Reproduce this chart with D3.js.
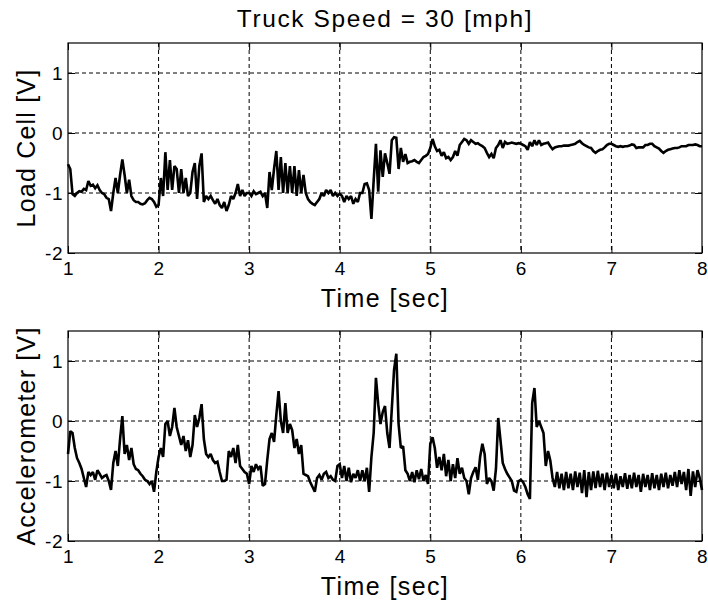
<!DOCTYPE html>
<html>
<head>
<meta charset="utf-8">
<script src="https://cdn.jsdelivr.net/npm/d3@7"></script>
<style>
  html, body { margin: 0; padding: 0; background: #fff; }
  svg { display: block; }
  text { font-family: "Liberation Sans", Arial, sans-serif; fill: #000; }
</style>
</head>
<body>
<svg id="chart" width="708" height="604"></svg>
<script>
// ---------------- data ----------------
const title = "Truck Speed = 30 [mph]";
const xLabel = "Time [sec]";
const yLabels = ["Load Cell [V]", "Accelerometer [V]"];
const xTicks = [1, 2, 3, 4, 5, 6, 7, 8];
const yTicks = [-2, -1, 0, 1];
const xDomain = [1, 8];
const yDomain = [-2, 1.5];
const tStart = 1;       // first sample time [sec]
const tStep = 0.025;    // sample spacing [sec]

const loadCell = [
  -0.52, -0.6, -1.02, -1.05, -1.0, -0.97, -0.98, -0.93, -0.95, -0.8,
  -0.88, -0.86, -0.92, -0.87, -0.95, -1.0, -1.02, -1.08, -1.1, -1.3,
  -1.0, -0.75, -1.0, -0.7, -0.44, -0.7, -1.0, -0.78, -1.05, -1.12,
  -1.15, -1.15, -1.18, -1.19, -1.17, -1.12, -1.08, -1.1, -1.15, -1.23,
  -1.2, -0.75, -1.05, -0.32, -0.95, -0.45, -0.95, -0.55, -0.6, -1.0,
  -0.6, -1.0, -0.75, -1.05, -1.0, -0.65, -0.5, -1.1, -0.55, -0.34,
  -1.15, -1.05, -1.1, -1.05, -1.12, -1.18, -1.1, -1.2, -1.25, -1.15,
  -1.3, -1.2, -1.05, -1.1, -1.0, -0.85, -1.05, -0.95, -1.05, -1.0,
  -1.0, -1.05, -0.97, -1.02, -1.0, -0.98, -1.05, -1.0, -1.25, -0.65,
  -0.95, -0.6, -0.3, -0.95, -0.4, -1.0, -0.5, -1.0, -0.55, -1.0,
  -0.55, -1.05, -0.62, -1.0, -0.7, -1.0, -1.1, -1.15, -1.18, -1.2,
  -1.15, -1.1, -1.0, -1.05, -0.95, -1.0, -0.95, -1.05, -1.0, -1.05,
  -1.01, -1.05, -1.15, -1.05, -1.1, -1.05, -1.18, -1.1, -1.15, -1.0,
  -1.0, -0.85, -0.84, -0.95, -1.43, -0.79, -0.18, -0.98, -0.29, -0.73,
  -0.34, -0.5, -0.68, -0.12, -0.07, -0.08, -0.6, -0.25, -0.48, -0.35,
  -0.5, -0.48, -0.47, -0.45, -0.48, -0.5, -0.45, -0.4, -0.38, -0.35,
  -0.25, -0.1, -0.22, -0.3, -0.28, -0.38, -0.32, -0.42, -0.4, -0.45,
  -0.4, -0.3, -0.38, -0.2, -0.15, -0.1, -0.12, -0.18, -0.12, -0.15,
  -0.18, -0.17, -0.2, -0.22, -0.25, -0.33, -0.4, -0.35, -0.42, -0.25,
  -0.2, -0.12, -0.25, -0.15, -0.18, -0.17, -0.16, -0.17, -0.18, -0.17,
  -0.18, -0.2, -0.22, -0.28, -0.15, -0.22, -0.12, -0.2, -0.12, -0.2,
  -0.18, -0.17, -0.16, -0.22, -0.27, -0.24, -0.23, -0.22, -0.22, -0.21,
  -0.21, -0.21, -0.2, -0.19, -0.18, -0.15, -0.13, -0.17, -0.2, -0.22,
  -0.24, -0.25, -0.3, -0.33, -0.3, -0.28, -0.27, -0.24, -0.2, -0.18,
  -0.18, -0.2, -0.22, -0.23, -0.22, -0.23, -0.22, -0.22, -0.21, -0.19,
  -0.2, -0.25, -0.24, -0.24, -0.24, -0.2, -0.2, -0.18, -0.18, -0.22,
  -0.24, -0.26, -0.3, -0.33, -0.3, -0.28, -0.27, -0.26, -0.25, -0.25,
  -0.24, -0.22, -0.22, -0.22, -0.2, -0.2, -0.2, -0.19, -0.2, -0.22,
  -0.22
];

const accelerometer = [
  -0.55, -0.17, -0.2, -0.45, -0.62, -0.7, -0.8, -0.95, -1.1, -0.85,
  -0.9, -0.85, -0.98, -0.82, -0.88, -0.95, -0.92, -0.9, -1.0, -1.15,
  -0.7, -0.5, -0.75, -0.3, 0.08, -0.55, -0.4, -0.65, -0.45, -0.72,
  -0.8, -0.82, -0.88, -0.92, -0.98, -1.0, -1.05, -1.0, -1.18, -0.85,
  -0.6, -0.45, -0.6, -0.05, 0.0, -0.25, -0.1, 0.22, -0.1, -0.25,
  -0.4, -0.25, -0.5, -0.32, -0.6, -0.4, 0.1, -0.1, 0.05, 0.28,
  -0.3, -0.55, -0.6, -0.55, -0.65, -0.7, -0.68, -0.85, -1.0, -1.0,
  -0.98, -0.5, -0.6, -0.45, -0.7, -0.4, -0.75, -0.8, -0.85, -0.88,
  -1.05, -0.75, -0.85, -0.72, -0.8, -0.75, -1.08, -1.05, -0.65, -0.3,
  -0.2, -0.35, 0.1, 0.5, 0.0, -0.2, 0.3, -0.2, -0.05, -0.15,
  -0.45, -0.3, -0.55, -0.4, -0.88, -0.9, -0.92, -1.02, -1.1, -1.18,
  -0.95, -0.9, -0.98, -0.88, -0.85, -0.95, -0.92, -0.98, -1.0, -0.75,
  -0.72, -0.95, -0.75, -1.0, -0.78, -1.02, -0.88, -0.95, -0.82, -1.0,
  -0.82, -1.0, -0.78, -1.18, -0.6, -0.2, 0.72, 0.28, -0.05, 0.15,
  0.25, -0.2, -0.45, 0.2, 0.85, 1.12, -0.05, -0.45, -0.42, -0.82,
  -0.88, -1.0, -0.85, -1.02, -0.82, -0.97, -0.8, -1.0, -0.9, -1.05,
  -0.38, -0.27, -0.45, -0.78, -0.6, -0.82, -0.55, -0.92, -0.65, -1.0,
  -0.72, -0.95, -0.62, -0.88, -0.78, -0.95, -1.0, -1.22, -0.95, -0.85,
  -0.77, -0.98, -0.6, -0.38, -0.55, -1.05, -0.95, -1.0, -1.16, -0.8,
  0.05, -0.32, -0.7, -0.8, -0.88, -0.94, -1.0, -1.16, -1.18, -1.0,
  -0.98, -1.02, -1.1, -1.22, -1.3, 0.3, 0.55, -0.1, 0.0, -0.1,
  -0.2, -0.75, -0.5, -0.66, -0.95, -1.1, -0.85, -1.12, -0.88, -1.15,
  -0.85, -1.12, -0.88, -1.15, -0.84, -1.1, -0.86, -1.2, -0.82, -1.27,
  -0.85, -1.15, -0.84, -1.12, -0.83, -1.1, -0.88, -1.15, -0.86, -1.1,
  -0.9, -1.12, -0.88, -1.15, -0.92, -1.1, -0.87, -1.13, -0.9, -1.12,
  -0.86, -1.1, -0.9, -1.18, -0.88, -1.1, -0.9, -1.15, -0.87, -1.12,
  -0.9, -1.15, -0.88, -1.1, -0.86, -1.12, -0.9, -1.08, -0.85, -1.1,
  -0.82, -1.05, -0.85, -1.15, -0.8, -1.25, -0.84, -1.1, -0.82, -0.95,
  -1.15
];

// ---------------- layout ----------------
const svg = d3.select("#chart");
const plotLeft = 68, plotRight = 702;
const panels = [
  { values: loadCell, label: yLabels[0], top: 43, bottom: 253 },
  { values: accelerometer, label: yLabels[1], top: 331, bottom: 541 }
];

const x = d3.scaleLinear().domain(xDomain).range([plotLeft, plotRight]);
const plainFormat = d => String(d);   // hyphen-minus like the original

svg.append("text")
  .attr("x", (plotLeft + plotRight) / 2)
  .attr("y", 27)
  .attr("text-anchor", "middle")
  .style("font-size", "24.5px")
  .style("letter-spacing", "1.6px")
  .text(title);

panels.forEach(p => {
  const y = d3.scaleLinear().domain(yDomain).range([p.bottom, p.top]);
  const g = svg.append("g");

  // grid
  g.selectAll("line.vg").data(xTicks.filter(t => t > xDomain[0] && t < xDomain[1]))
    .join("line")
    .attr("x1", d => x(d)).attr("x2", d => x(d))
    .attr("y1", p.top).attr("y2", p.bottom)
    .attr("stroke", "#000").attr("stroke-width", 1)
    .attr("stroke-dasharray", "4,3");
  g.selectAll("line.hg").data(yTicks.filter(t => t > yDomain[0] && t < yDomain[1]))
    .join("line")
    .attr("y1", d => y(d)).attr("y2", d => y(d))
    .attr("x1", plotLeft).attr("x2", plotRight)
    .attr("stroke", "#000").attr("stroke-width", 1)
    .attr("stroke-dasharray", "4,3");

  // axes (inward ticks on all sides)
  const axB = g.append("g").attr("transform", `translate(0,${p.bottom})`)
    .call(d3.axisBottom(x).tickValues(xTicks).tickFormat(plainFormat)
      .tickSizeInner(-7).tickSizeOuter(0).tickPadding(9));
  const axT = g.append("g").attr("transform", `translate(0,${p.top})`)
    .call(d3.axisTop(x).tickValues(xTicks).tickFormat("")
      .tickSizeInner(-7).tickSizeOuter(0));
  const axL = g.append("g").attr("transform", `translate(${plotLeft},0)`)
    .call(d3.axisLeft(y).tickValues(yTicks).tickFormat(plainFormat)
      .tickSizeInner(-7).tickSizeOuter(0).tickPadding(5));
  const axR = g.append("g").attr("transform", `translate(${plotRight},0)`)
    .call(d3.axisRight(y).tickValues(yTicks).tickFormat("")
      .tickSizeInner(-7).tickSizeOuter(0));
  [axB, axT, axL, axR].forEach(a => {
    a.select(".domain").remove();
    a.selectAll(".tick line").attr("stroke", "#000").attr("stroke-width", 1);
    a.selectAll(".tick text")
      .style("font-family", '"Liberation Sans", Arial, sans-serif')
      .style("font-size", "19px")
      .style("letter-spacing", "0.5px")
      .attr("fill", "#000");
  });

  // frame
  g.append("rect")
    .attr("x", plotLeft).attr("y", p.top)
    .attr("width", plotRight - plotLeft).attr("height", p.bottom - p.top)
    .attr("fill", "none").attr("stroke", "#000").attr("stroke-width", 1.2);

  // data line
  const line = d3.line()
    .x((d, i) => x(tStart + i * tStep))
    .y(d => y(d));
  g.append("path")
    .datum(p.values)
    .attr("d", line)
    .attr("fill", "none")
    .attr("stroke", "#000")
    .attr("stroke-width", 2.6)
    .attr("stroke-linejoin", "miter")
    .attr("stroke-miterlimit", 2);

  // x label
  g.append("text")
    .attr("x", (plotLeft + plotRight) / 2)
    .attr("y", p.bottom + 54)
    .attr("text-anchor", "middle")
    .style("font-size", "25px")
    .style("letter-spacing", "1.4px")
    .text(xLabel);

  // y label
  g.append("text")
    .attr("transform", `translate(35,${(p.top + p.bottom) / 2}) rotate(-90)`)
    .attr("text-anchor", "middle")
    .style("font-size", "25px")
    .style("letter-spacing", "1.2px")
    .text(p.label);
});
</script>
</body>
</html>
